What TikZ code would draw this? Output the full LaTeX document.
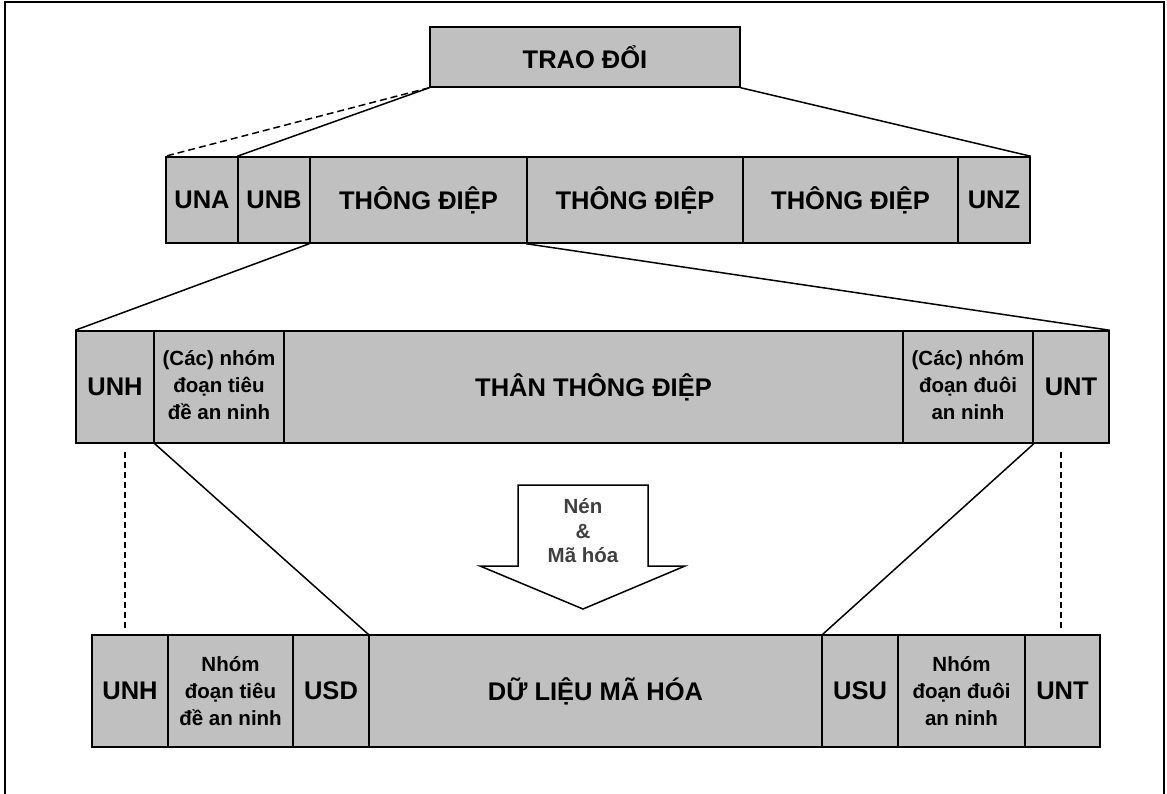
\documentclass[tikz,border=0pt]{standalone}
\usepackage{fontspec}
\setmainfont{Liberation Sans}
\definecolor{cellgray}{HTML}{C0C0C0}
\definecolor{arrowtext}{HTML}{404040}
\newcommand{\upstack}[1]{\raisebox{6pt}{\begin{tabular}{@{}c@{}}#1\end{tabular}}}
\begin{document}
\begin{tikzpicture}[x=1pt,y=-1pt,
  cell/.style={draw=black,line width=1.5pt,fill=cellgray,inner sep=0pt,align=center,
    font=\fontsize{25.5}{30}\selectfont\bfseries},
  smallcell/.style={cell,font=\fontsize{20.5}{27}\selectfont\bfseries},
  link/.style={line width=1.5pt},
  dlink/.style={line width=1.5pt,dash pattern=on 7pt off 4pt},
  vlink/.style={line width=1.1pt,dash pattern=on 6pt off 4pt}]
\useasboundingbox (0,0) rectangle (1167,794);
\draw[line width=1.3pt] (5,2) rectangle (1164,810);
% top
\node[cell,minimum width=310pt,minimum height=60pt] (trao) at (585,57) {TRAO ĐỔI};
% row 2
\node[cell,minimum width=72pt,minimum height=86pt] (una) at (202,200) {UNA};
\node[cell,minimum width=72pt,minimum height=86pt] (unb) at (274,200) {UNB};
\node[cell,minimum width=217pt,minimum height=86pt] (td1) at (418.5,200) {THÔNG ĐIỆP};
\node[cell,minimum width=216pt,minimum height=86pt] (td2) at (635,200) {THÔNG ĐIỆP};
\node[cell,minimum width=215pt,minimum height=86pt] (td3) at (850.5,200) {THÔNG ĐIỆP};
\node[cell,minimum width=72pt,minimum height=86pt] (unz) at (994,200) {UNZ};
% row 3
\node[cell,minimum width=78pt,minimum height=112pt] (unh3) at (115,387) {UNH};
\node[smallcell,minimum width=130pt,minimum height=112pt] (hdr3) at (219,387) {\upstack{(Các) nhóm\\đoạn tiêu\\đề an ninh}};
\node[cell,minimum width=619pt,minimum height=112pt] (body3) at (593.5,387) {THÂN THÔNG ĐIỆP};
\node[smallcell,minimum width=130pt,minimum height=112pt] (trl3) at (968,387) {\upstack{(Các) nhóm\\đoạn đuôi\\an ninh}};
\node[cell,minimum width=76pt,minimum height=112pt] (unt3) at (1071,387) {UNT};
% row 4
\node[cell,minimum width=76pt,minimum height=112pt] (unh4) at (130,691) {UNH};
\node[smallcell,minimum width=125pt,minimum height=112pt] (hdr4) at (230.5,691) {Nhóm\\đoạn tiêu\\đề an ninh};
\node[cell,minimum width=76pt,minimum height=112pt] (usd) at (331,691) {USD};
\node[cell,minimum width=453pt,minimum height=112pt] (data) at (595.5,691) {DỮ LIỆU MÃ HÓA};
\node[cell,minimum width=76pt,minimum height=112pt] (usu) at (860,691) {USU};
\node[smallcell,minimum width=127pt,minimum height=112pt] (trl4) at (961.5,691) {Nhóm\\đoạn đuôi\\an ninh};
\node[cell,minimum width=75pt,minimum height=112pt] (unt4) at (1062.5,691) {UNT};
% connectors
\draw[dlink] (trao.south west) -- (una.north west);
\draw[link] (trao.south west) -- (unb.north west);
\draw[link] (trao.south east) -- (unz.north east);
\draw[link] (td1.south west) -- (unh3.north west);
\draw[link] (td2.south west) -- (unt3.north east);
\draw[link] (unh3.south east) -- (data.north west);
\draw[link] (trl3.south east) -- (data.north east);
\coordinate (dl1) at (125,452);
\coordinate (dl2) at (125,628);
\coordinate (dr1) at (1061,452);
\coordinate (dr2) at (1061,628);
\draw[vlink] (dl1) -- (dl2);
\draw[vlink] (dr1) -- (dr2);
% arrow
\draw[line width=1.5pt,fill=white] (518,485) -- (648,485) -- (648,566) -- (685,566) -- (583,609) -- (480,566) -- (518,566) -- cycle;
\node[align=center,text=arrowtext,font=\fontsize{20.5}{24.5}\selectfont\bfseries] (nen) at (583,531) {Nén\\\&\\Mã hóa};
\end{tikzpicture}
\end{document}
